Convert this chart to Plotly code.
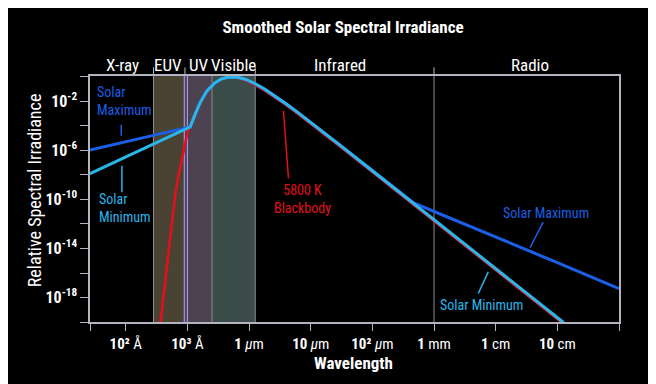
import plotly.graph_objects as go

FONT = 'Roboto Condensed, Roboto, Liberation Sans Narrow, sans-serif'

# wavelength as log10(metres), irradiance as log10(relative irradiance)
bb_log_wl = [-7.47, -7.45, -7.40, -7.35, -7.30, -7.25, -7.20, -7.15, -7.10, -7.05, -7.00,
             -6.95, -6.90, -6.85, -6.80, -6.70, -6.60, -6.50, -6.40, -6.30, -6.20, -6.10,
             -6.00, -5.80, -5.60, -5.40, -5.20, -5.00, -4.50, -4.00, -3.50, -3.00, -2.00,
             -1.00, -0.90]
bb_log_irr = [-21.5, -20.6, -18.3, -16.0, -13.8, -11.6, -9.7, -8.2, -6.9, -5.8, -4.55,
              -3.9, -3.35, -2.8, -2.16, -1.26, -0.65, -0.26, -0.06, 0.0, -0.06, -0.19,
              -0.40, -0.94, -1.58, -2.29, -3.04, -3.81, -5.77, -7.76, -9.75, -11.75, -15.75,
              -19.75, -20.15]

min_log_wl = [-8.58, -6.955, -6.874, -6.793, -6.684, -6.55, -6.45, -6.35, -6.25, -6.15,
              -6.05, -5.90, -5.75, -5.60, -5.40, -5.20, -5.00, -4.50, -4.00, -3.50, -3.34,
              -3.00, -2.00, -1.00, -0.90]
min_log_irr = [-7.89, -4.07, -3.03, -2.09, -1.14, -0.46, -0.16, -0.03, -0.01, -0.06,
               -0.20, -0.55, -0.98, -1.47, -2.18, -2.93, -3.70, -5.66, -7.65, -9.64, -10.28,
               -11.64, -15.64, -19.64, -20.04]

max_log_wl = [-8.58, -6.955, -6.874, -6.793, -6.684, -6.55, -6.45, -6.35, -6.25, -6.15,
              -6.05, -5.90, -5.75, -5.60, -5.40, -5.20, -5.00, -4.50, -4.00, -3.50, -3.34,
              -3.00, -2.00, -1.00, 0.00]
max_log_irr = [-5.96, -4.07, -3.03, -2.09, -1.14, -0.46, -0.16, -0.03, -0.01, -0.06,
               -0.20, -0.55, -0.98, -1.47, -2.18, -2.93, -3.70, -5.66, -7.65, -9.64, -10.25,
               -10.98, -13.05, -15.15, -17.28]

# spectral regions
band_lo = [-7.55, -7.05, -6.60]
band_hi = [-7.05, -6.60, -5.90]
band_fill = ['#4a4233', '#4d4252', '#3b4b48']
region_names = ['X-ray', 'EUV', 'UV', 'Visible', 'Infrared', 'Radio']
region_centers = [-8.06, -7.31, -6.81, -6.26, -4.52, -1.44]
region_edges = [-7.55, -7.04, -5.90, -3.00]

x_tick_vals = [-8.58, -8, -7, -6, -5, -4, -3, -2, -1, 0]
x_tick_text = ['', '<b>10²</b> Å', '<b>10³</b> Å', '<b>1</b> <i>µ</i>m', '<b>10</b> <i>µ</i>m',
               '<b>10²</b> <i>µ</i>m', '<b>1</b> mm', '<b>1</b> cm', '<b>10</b> cm', '']
y_tick_vals = list(range(-20, 1, 2))
y_tick_text = ['<b>10<sup>%d</sup></b>' % v if v in (-2, -6, -10, -14, -18) else '' for v in y_tick_vals]

RED = '#e3101c'
BLUE = '#1b5fe6'
CYAN = '#2ab6e8'
AXIS = '#b4b4c0'

fig = go.Figure()
fig.add_trace(go.Scatter(x=bb_log_wl, y=bb_log_irr, mode='lines', line=dict(color=RED, width=2.6)))
fig.add_trace(go.Scatter(x=max_log_wl, y=max_log_irr, mode='lines', line=dict(color=BLUE, width=3)))
fig.add_trace(go.Scatter(x=min_log_wl, y=min_log_irr, mode='lines', line=dict(color=CYAN, width=3)))

shapes = []
for lo, hi, c in zip(band_lo, band_hi, band_fill):
    shapes.append(dict(type='rect', xref='x', yref='paper', x0=lo, x1=hi, y0=0, y1=1,
                       fillcolor=c, line_width=0, layer='below'))
for xv in [-7.55, -6.60, -5.90]:
    shapes.append(dict(type='line', xref='x', yref='paper', x0=xv, x1=xv, y0=0, y1=1,
                       line=dict(color='#8c8c8c', width=1), layer='below'))
for xv in [-7.05, -7.00]:
    shapes.append(dict(type='line', xref='x', yref='paper', x0=xv, x1=xv, y0=0, y1=1,
                       line=dict(color='#9d94e6', width=1.2), layer='below'))
shapes.append(dict(type='line', xref='x', yref='paper', x0=-3, x1=-3, y0=0, y1=1,
                   line=dict(color='#8c8c96', width=1), layer='below'))
for xv in region_edges:
    shapes.append(dict(type='line', xref='x', yref='paper', x0=xv, x1=xv, y0=1, y1=1.035,
                       line=dict(color=AXIS, width=1)))

# pointer lines for the labels
pointers = [
    ((-8.073, -3.90), (-8.073, -4.80), BLUE),
    ((-8.062, -7.24), (-8.062, -9.41), CYAN),
    ((-5.442, -2.76), (-5.361, -8.29), RED),
    ((-1.229, -11.85), (-1.444, -13.93), BLUE),
    ((-2.120, -15.91), (-2.282, -17.67), CYAN),
]
for (x0, y0), (x1, y1), c in pointers:
    shapes.append(dict(type='line', xref='x', yref='y', x0=x0, y0=y0, x1=x1, y1=y1,
                       line=dict(color=c, width=1.5)))

annotations = []
for name, xc in zip(region_names, region_centers):
    annotations.append(dict(x=xc, y=1.045, xref='x', yref='paper', text=name, showarrow=False,
                            font=dict(size=17, color='white', family=FONT), yanchor='middle'))

labels = [
    (-8.50, -1.95, 'Solar<br>Maximum', BLUE, 'left', 'left'),
    (-8.47, -10.73, 'Solar<br>Minimum', CYAN, 'left', 'left'),
    (-5.131, -10.0, '5800 K<br>Blackbody', RED, 'center', 'center'),
    (-1.185, -11.11, 'Solar Maximum', BLUE, 'center', 'center'),
    (-2.238, -18.62, 'Solar Minimum', CYAN, 'center', 'center'),
]
for xv, yv, txt, c, xa, al in labels:
    annotations.append(dict(x=xv, y=yv, xref='x', yref='y', text=txt, showarrow=False,
                            xanchor=xa, align=al, yanchor='middle',
                            font=dict(size=14, color=c, family=FONT)))

# axis titles
annotations.append(dict(x=-0.127, y=0.537, xref='paper', yref='paper', textangle=-90,
                        text='Relative Spectral Irradiance', showarrow=False,
                        font=dict(size=18, color='white', family=FONT)))
annotations.append(dict(x=0.499, y=-0.167, xref='paper', yref='paper', yanchor='middle',
                        text='<b>Wavelength</b>', showarrow=False,
                        font=dict(size=17, color='white', family=FONT)))

fig.update_layout(
    width=648, height=376,
    paper_bgcolor='black', plot_bgcolor='black',
    margin=dict(l=82, r=37, t=68, b=62),
    showlegend=False,
    font=dict(family=FONT, color='white', size=14),
    title=dict(text='<b>Smoothed Solar Spectral Irradiance</b>', x=0.517, xanchor='center',
               y=0.9495, yanchor='middle', font=dict(size=17, color='white', family=FONT)),
    xaxis=dict(range=[-8.58, 0], tickmode='array', tickvals=x_tick_vals, ticktext=x_tick_text,
               ticks='outside', ticklen=7, tickcolor=AXIS, tickwidth=1.2, automargin=False,
               showline=True, linecolor=AXIS, linewidth=1.5, mirror=True,
               showgrid=False, zeroline=False, tickfont=dict(size=15, color='white')),
    yaxis=dict(range=[-20, 0.08], tickmode='array', tickvals=y_tick_vals, ticktext=y_tick_text,
               ticks='outside', ticklen=8, tickcolor=AXIS, tickwidth=1.2, automargin=False,
               showline=True, linecolor=AXIS, linewidth=1.5, mirror=True,
               showgrid=False, zeroline=False, tickfont=dict(size=16, color='white')),
    shapes=shapes,
    annotations=annotations,
)

fig.write_html("out.html")
